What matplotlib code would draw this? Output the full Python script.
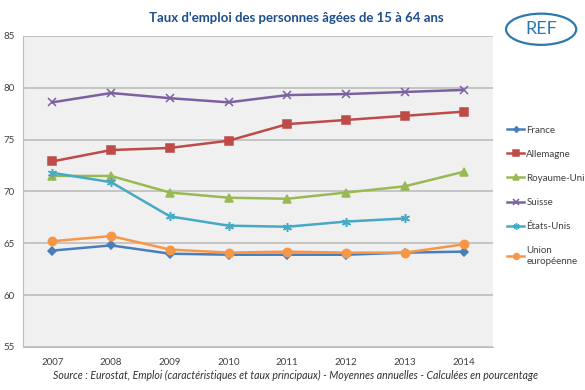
import matplotlib.pyplot as plt
import numpy as np
from matplotlib.patches import Ellipse

plt.rcParams['font.family'] = ['Lato', 'DejaVu Sans']

years = ['2007', '2008', '2009', '2010', '2011', '2012', '2013', '2014']
france = [64.3, 64.8, 64.0, 63.9, 63.9, 63.9, 64.1, 64.2]
allemagne = [72.9, 74.0, 74.2, 74.9, 76.5, 76.9, 77.3, 77.7]
royaume_uni = [71.5, 71.5, 69.9, 69.4, 69.3, 69.9, 70.5, 71.9]
suisse = [78.6, 79.5, 79.0, 78.6, 79.3, 79.4, 79.6, 79.8]
etats_unis = [71.8, 70.9, 67.6, 66.7, 66.6, 67.1, 67.4, np.nan]
ue = [65.2, 65.7, 64.4, 64.1, 64.2, 64.1, 64.1, 64.9]

series = [
    ('France', france, '#4A7EBB', 'D', 4),
    ('Allemagne', allemagne, '#BE4B48', 's', 5.5),
    ('Royaume-Uni', royaume_uni, '#98B954', '^', 5.5),
    ('Suisse', suisse, '#7D60A0', 'x', 5.5),
    ('États-Unis', etats_unis, '#46AAC5', (6, 2, 0), 6.5),
    ('Union\neuropéenne', ue, '#F79646', 'o', 6),
]

fig = plt.figure(figsize=(5.85, 3.9), dpi=100)
ax = fig.add_axes([0.0393, 0.1103, 0.8034, 0.7974])
ax.set_facecolor('#F0F0F0')

x = np.arange(len(years))
for name, vals, col, mk, ms in series:
    ax.plot(x, vals, color=col, lw=1.8, marker=mk, markersize=ms,
            markeredgewidth=1.1, label=name)

ax.set_xlim(-0.5, len(years) - 0.5)
ax.set_ylim(55, 85)
ax.set_yticks([55, 60, 65, 70, 75, 80, 85])
ax.set_xticks(x)
ax.set_xticklabels(years)
ax.yaxis.grid(True, color='#BDBDBD', lw=1.2)
ax.set_axisbelow(True)
for s in ['top', 'right']:
    ax.spines[s].set_visible(False)
ax.spines['left'].set_color('#BDBDBD')
ax.spines['bottom'].set_color('#BDBDBD')
ax.tick_params(length=0, labelsize=7, colors='#404040', pad=8)
ax.tick_params(axis='y', pad=6)

fig.text(0.506, 0.955, "Taux d'emploi des personnes âgées de 15 à 64 ans",
         ha='center', va='center', fontsize=9.5, fontweight='bold', color='#1F4E8C')
fig.text(0.505, 0.038,
         'Source : Eurostat, Emploi (caractéristiques et taux principaux) - Moyennes annuelles - Calculées en pourcentage',
         ha='center', va='center', fontsize=7.6, style='italic', color='#303030')

leg = fig.legend(loc='upper left', bbox_to_anchor=(0.858, 0.69), frameon=False,
                 fontsize=7, handlelength=1.8, handletextpad=0.2,
                 labelspacing=1.55, borderpad=0, markerscale=0.7)
for t in leg.get_texts():
    t.set_color('#404040')

# logo
fig.patches.append(Ellipse((0.925, 0.925), 0.12, 0.08, transform=fig.transFigure,
                           fill=False, ec='#2A7AB0', lw=1.6))
fig.text(0.925, 0.925, 'REF', ha='center', va='center', fontsize=13,
         color='#2A7AB0')

fig.savefig('out.png', dpi=100)
